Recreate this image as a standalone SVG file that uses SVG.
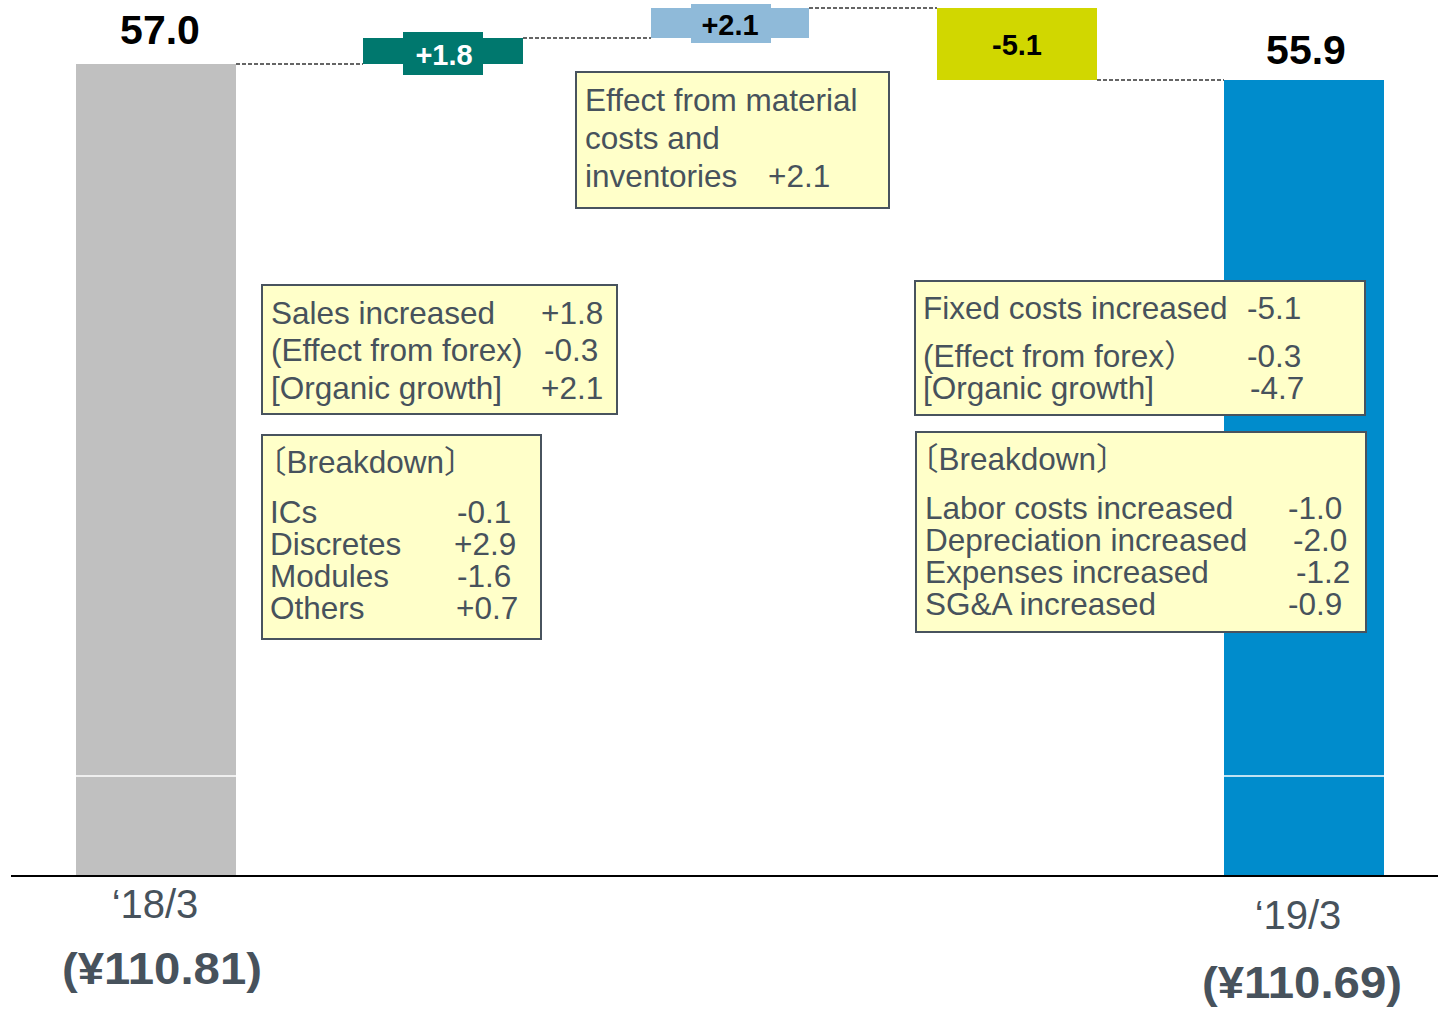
<svg xmlns="http://www.w3.org/2000/svg" width="1438" height="1013" viewBox="0 0 1438 1013">
<style>
.box{fill:#ffffc9;stroke:#48535e;stroke-width:2}
.bt{font-family:"Liberation Sans",Arial,"Noto Sans CJK JP",sans-serif;font-size:31.5px;fill:#47525c}
.sm{font-size:30.5px}
.val{font-family:"Liberation Sans",Arial,sans-serif;font-weight:bold;font-size:29px;text-anchor:middle}
.big{font-family:"Liberation Sans",Arial,sans-serif;font-weight:bold;font-size:41px;fill:#000;text-anchor:middle}
.cat{font-family:"Liberation Sans",Arial,sans-serif;font-size:40px;fill:#47525c;text-anchor:middle}
.yen{font-family:"Liberation Sans",Arial,sans-serif;font-weight:bold;font-size:44px;fill:#47525c;text-anchor:middle}
.dash{stroke:#333;stroke-width:1.3;stroke-dasharray:4 2;fill:none}
.brk{stroke:#fff;stroke-width:1.5}
</style>
<rect width="1438" height="1013" fill="#fff"/>

<g id="bar-1803">
<rect x="76" y="64" width="160" height="812" fill="#c0c0c0"/>
<line class="brk" x1="76" y1="776" x2="236" y2="776"/>
<text class="big" x="160" y="44">57.0</text>
</g>

<g id="bar-1903">
<rect x="1224" y="80" width="160" height="796" fill="#008ccc"/>
<line class="brk" x1="1224" y1="776" x2="1384" y2="776"/>
<text class="big" x="1306" y="64">55.9</text>
</g>

<g id="step-sales">
<rect x="363" y="38" width="160" height="26" fill="#00786e"/>
<rect x="403" y="32" width="80" height="43" fill="#00786e"/>
<text class="val" x="444" y="65" fill="#fff">+1.8</text>
</g>

<g id="step-material">
<rect x="651" y="8" width="158" height="30" fill="#8fbad9"/>
<rect x="691" y="4" width="80" height="39" fill="#8fbad9"/>
<text class="val" x="730" y="35" fill="#000">+2.1</text>
</g>

<g id="step-fixed">
<rect x="937" y="8" width="160" height="72" fill="#d1d700"/>
<text class="val" x="1017" y="55" fill="#000">-5.1</text>
</g>

<g id="connectors">
<line class="dash" x1="236" y1="64" x2="363" y2="64"/>
<line class="dash" x1="523" y1="38" x2="651" y2="38"/>
<line class="dash" x1="809" y1="8" x2="937" y2="8"/>
<line class="dash" x1="1097" y1="80" x2="1224" y2="80"/>
</g>

<g id="axis">
<line x1="11" y1="876" x2="1438" y2="876" stroke="#000" stroke-width="2"/>
</g>

<g id="label-1803">
<text class="cat" x="155" y="918">‘18/3</text>
<text class="yen" x="162" y="984" textLength="200" lengthAdjust="spacingAndGlyphs">(¥110.81)</text>
</g>
<g id="label-1903">
<text class="cat" x="1298" y="929">‘19/3</text>
<text class="yen" x="1302" y="998" textLength="200" lengthAdjust="spacingAndGlyphs">(¥110.69)</text>
</g>

<g id="note-material">
<rect class="box" x="576" y="72" width="313" height="136"/>
<text class="bt" x="585" y="111">Effect from material</text>
<text class="bt" x="585" y="149">costs and</text>
<text class="bt" x="585" y="187">inventories</text>
<text class="bt" x="768" y="187">+2.1</text>
</g>

<g id="note-sales">
<rect class="box" x="262" y="285" width="355" height="129"/>
<text class="bt" x="271" y="324">Sales increased</text>
<text class="bt" x="541" y="324">+1.8</text>
<text class="bt" x="271" y="361">(Effect from forex)</text>
<text class="bt" x="544" y="361">-0.3</text>
<text class="bt" x="271" y="399">[Organic growth]</text>
<text class="bt" x="541" y="399">+2.1</text>
</g>

<g id="note-sales-breakdown">
<rect class="box" x="262" y="435" width="279" height="204"/>
<text class="bt" x="255" y="473">〔Breakdown〕</text>
<text class="bt" x="270" y="523">ICs</text>
<text class="bt" x="457" y="523">-0.1</text>
<text class="bt" x="270" y="555">Discretes</text>
<text class="bt" x="454" y="555">+2.9</text>
<text class="bt" x="270" y="587">Modules</text>
<text class="bt" x="457" y="587">-1.6</text>
<text class="bt" x="270" y="619">Others</text>
<text class="bt" x="456" y="619">+0.7</text>
</g>

<g id="note-fixed">
<rect class="box" x="915" y="281" width="450" height="134"/>
<text class="bt" x="923" y="319">Fixed costs increased</text>
<text class="bt" x="1247" y="319">-5.1</text>
<text class="bt" x="923" y="367">(Effect from forex）</text>
<text class="bt" x="1247" y="367">-0.3</text>
<text class="bt" x="923" y="399">[Organic growth]</text>
<text class="bt" x="1250" y="399">-4.7</text>
</g>

<g id="note-fixed-breakdown">
<rect class="box" x="916" y="432" width="450" height="200"/>
<text class="bt" x="907" y="470">〔Breakdown〕</text>
<text class="bt" x="925" y="519">Labor costs increased</text>
<text class="bt" x="1288" y="519">-1.0</text>
<text class="bt" x="925" y="551">Depreciation increased</text>
<text class="bt" x="1293" y="551">-2.0</text>
<text class="bt" x="925" y="583">Expenses increased</text>
<text class="bt" x="1296" y="583">-1.2</text>
<text class="bt" x="925" y="615">SG&amp;A increased</text>
<text class="bt" x="1288" y="615">-0.9</text>
</g>
</svg>
